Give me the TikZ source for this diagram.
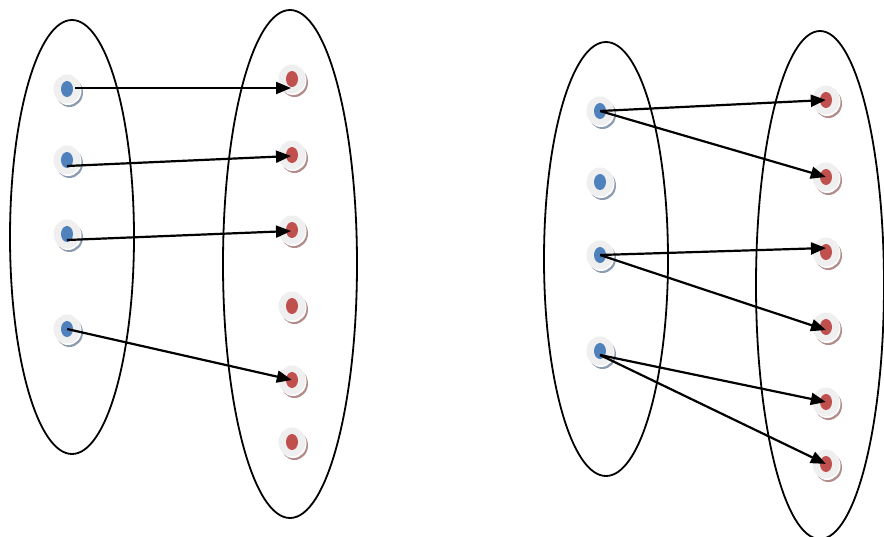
\documentclass[tikz,border=0pt]{standalone}
\usetikzlibrary{arrows.meta,calc}
\definecolor{bluedot}{HTML}{4F81BD}
\definecolor{reddot}{HTML}{C0504D}
\definecolor{blueshadow}{HTML}{8E9CB2}
\definecolor{redshadow}{HTML}{B38C8C}
\definecolor{discgray}{HTML}{EFEFEF}
\tikzset{
  setoval/.style={draw=black, line width=1.8pt},
  link/.style={line width=2.2pt, -{Triangle[length=15pt,width=12pt]}},
}
\newcommand{\mydot}[4]{% name, x, y, colour prefix
  \fill[#4shadow] (#2+2.5,#3+3.5) ellipse (13.5 and 14.5);
  \fill[white] (#2+1,#3+1.5) ellipse (13.5 and 14.5);
  \fill[discgray] (#2,#3) ellipse (13.5 and 14.5);
  \fill[#4dot] (#2,#3) ellipse (6 and 8);
  \node[inner sep=0pt, minimum size=0pt] (#1) at (#2,#3) {};
}
\begin{document}
\begin{tikzpicture}[x=1pt,y=-1pt]
\useasboundingbox (0,0) rectangle (884,536);
% ovals
\draw[setoval] (72,237) ellipse (62 and 217);
\draw[setoval] (290,264) ellipse (67 and 254);
\draw[setoval] (606,259) ellipse (62 and 217);
\draw[setoval] (820,285) ellipse (64 and 254);
% left dots
\mydot{b1}{67}{89}{blue}
\mydot{b2}{67}{160}{blue}
\mydot{b3}{67}{234}{blue}
\mydot{b4}{67}{329}{blue}
\mydot{r1}{292}{79}{red}
\mydot{r2}{292}{155}{red}
\mydot{r3}{292}{230}{red}
\mydot{r4}{292}{306}{red}
\mydot{r5}{292}{380}{red}
\mydot{r6}{292}{442}{red}
% right dots
\mydot{c1}{600}{111}{blue}
\mydot{c2}{600}{182}{blue}
\mydot{c3}{600}{255}{blue}
\mydot{c4}{600}{351}{blue}
\mydot{s1}{826}{100}{red}
\mydot{s2}{826}{177}{red}
\mydot{s3}{826}{252}{red}
\mydot{s4}{826}{327}{red}
\mydot{s5}{826}{402}{red}
\mydot{s6}{826}{464}{red}
% arrow ends
\coordinate (e1) at ($(r1)+(-1,9)$);
\coordinate (e2) at ($(r2)+(-1,1)$);
\coordinate (e3) at ($(r3)+(-1,1)$);
% left arrows
\draw[link] ($(b1)+(8,-1)$) -- (e1);
\draw[link] ($(b2)+(0,6)$) -- (e2);
\draw[link] ($(b3)+(0,6)$) -- (e3);
\draw[link] (b4) -- (r5);
% right arrows
\draw[link] (c1) -- (s1);
\draw[link] (c1) -- (s2);
\draw[link] (c3) -- ($(s3)+(0,-4)$);
\draw[link] (c3) -- ($(s4)+(0,3)$);
\draw[link] ($(c4)+(0,4)$) -- (s5);
\draw[link] ($(c4)+(0,4)$) -- (s6);
\end{tikzpicture}
\end{document}
